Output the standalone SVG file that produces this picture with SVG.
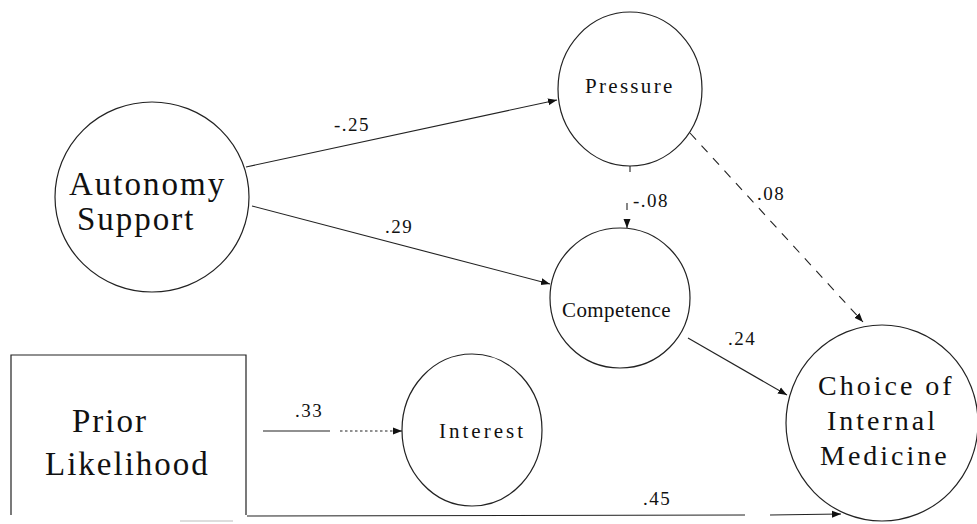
<svg xmlns="http://www.w3.org/2000/svg" width="977" height="524" viewBox="0 0 977 524">
<style>
.node{fill:#fff;stroke:#222;stroke-width:1.2}
.edge{fill:none;stroke:#222;stroke-width:1.1}
.t{font-family:"Liberation Serif","Times New Roman",serif;fill:#111}
.big{font-size:33px;letter-spacing:2px}
.med{font-size:28px;letter-spacing:3px}
.sm{font-size:21px}
.lbl{font-family:"Liberation Serif","Times New Roman",serif;font-size:19px;letter-spacing:1.5px;fill:#111}
</style>
<defs>
<marker id="ah" markerUnits="userSpaceOnUse" markerWidth="10" markerHeight="8" refX="9" refY="4" orient="auto">
<path d="M0,0.5 L9,4 L0,7.5 z" fill="#111"/>
</marker>
</defs>
<rect width="977" height="524" fill="#fff"/>
<g id="connectors">
<line class="edge" x1="246" y1="167" x2="557" y2="100" marker-end="url(#ah)"/>
<line class="edge" x1="252" y1="206" x2="550" y2="284" marker-end="url(#ah)"/>
<line class="edge" x1="630" y1="166" x2="630" y2="172"/>
<line class="edge" x1="627" y1="203" x2="627" y2="210"/>
<line class="edge" x1="627" y1="220" x2="627" y2="228" marker-end="url(#ah)"/>
<line class="edge" x1="690" y1="133" x2="863" y2="322" stroke-dasharray="9,8" marker-end="url(#ah)"/>
<line class="edge" x1="688" y1="338" x2="787" y2="395" marker-end="url(#ah)"/>
<line class="edge" x1="263" y1="431" x2="330" y2="431"/>
<line class="edge" x1="340" y1="431" x2="402" y2="431" stroke-dasharray="2.5,2.5" marker-end="url(#ah)"/>
<line class="edge" x1="247" y1="516" x2="745" y2="515"/>
<line class="edge" x1="770" y1="515" x2="841" y2="514" marker-end="url(#ah)"/>
<text class="lbl" x="334" y="131">-.25</text>
<text class="lbl" x="385" y="233">.29</text>
<text class="lbl" x="633" y="207">-.08</text>
<text class="lbl" x="757" y="200">.08</text>
<text class="lbl" x="728" y="345">.24</text>
<text class="lbl" x="295" y="417">.33</text>
<text class="lbl" x="643" y="505">.45</text>
</g>
<g id="autonomy">
<ellipse class="node" cx="152" cy="197" rx="97" ry="95"/>
<text class="t big" x="69" y="195">Autonomy</text>
<text class="t big" x="77" y="230">Support</text>
</g>
<g id="pressure">
<ellipse class="node" cx="630" cy="89" rx="72" ry="77"/>
<text class="t sm" x="585" y="93" letter-spacing="2.3">Pressure</text>
</g>
<g id="competence">
<ellipse class="node" cx="620" cy="298" rx="70" ry="70"/>
<text class="t sm" x="562" y="317" letter-spacing="0.4">Competence</text>
</g>
<g id="interest">
<ellipse class="node" cx="472" cy="430" rx="70" ry="76"/>
<text class="t sm" x="439" y="438" letter-spacing="3">Interest</text>
</g>
<g id="choice">
<ellipse class="node" cx="882" cy="423" rx="96" ry="98"/>
<text class="t med" x="818" y="395">Choice of</text>
<text class="t med" x="827" y="430">Internal</text>
<text class="t med" x="820" y="465">Medicine</text>
</g>
<g id="prior">
<path class="node" fill="none" d="M11,515 L11,355 L246,355 L246,515"/>
<line x1="180" y1="521" x2="233" y2="521" stroke="#bbb" stroke-width="1"/>
<text class="t big" x="72" y="432" letter-spacing="2.5">Prior</text>
<text class="t big" x="45" y="475" letter-spacing="2.5">Likelihood</text>
</g>
</svg>
